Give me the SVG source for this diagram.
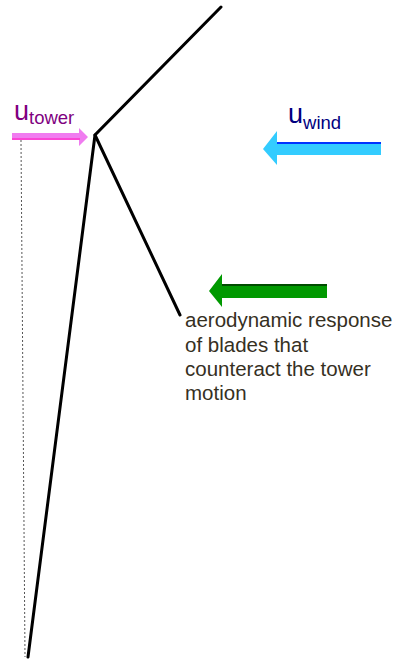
<svg xmlns="http://www.w3.org/2000/svg" width="396" height="661" viewBox="0 0 396 661">
<style>
.beam{stroke:#000;stroke-width:3;fill:none;stroke-linecap:round}
.lbl{font-family:"Liberation Sans",Arial,sans-serif}
.note{font-family:"Liberation Sans",Arial,sans-serif;font-size:20.5px;fill:#36301f}
</style>
<rect width="396" height="661" fill="#fff"/>
<g id="connectors">
<line x1="21" y1="140" x2="25" y2="657" stroke="#555" stroke-width="1" stroke-dasharray="2,2"/>
</g>
<g id="turbine">
<polyline class="beam" points="28,657 95,135 221,7"/>
<line class="beam" x1="95" y1="135" x2="180" y2="315"/>
</g>
<g id="tower-arrow">
<polygon points="12,133 79,133 79,128 88,137 79,146 79,140 12,140" fill="#f07cf0"/>
<line x1="12" y1="139" x2="80" y2="139" stroke="#ff33cc" stroke-width="1.5"/>
<text class="lbl" x="14" y="120" font-size="27" fill="#800080">u<tspan font-size="18.5" dy="4">tower</tspan></text>
</g>
<g id="wind-arrow">
<polygon points="381,142 277,142 277,131 263,149 277,165 277,155 381,155" fill="#33ccff"/>
<line x1="277" y1="143" x2="381" y2="143" stroke="#0033ff" stroke-width="2"/>
<text class="lbl" x="288" y="123" font-size="27" fill="#000080">u<tspan font-size="18.5" dy="6">wind</tspan></text>
</g>
<g id="blade-arrow">
<polygon points="327,284 222,284 222,274 209,291 222,307 222,298 327,298" fill="#009900"/>
<line x1="222" y1="285" x2="327" y2="285" stroke="#003300" stroke-width="1.5"/>
<text class="note" x="185" y="327">aerodynamic response</text>
<text class="note" x="185" y="352">of blades that</text>
<text class="note" x="185" y="376">counteract the tower</text>
<text class="note" x="185" y="400">motion</text>
</g>
</svg>
